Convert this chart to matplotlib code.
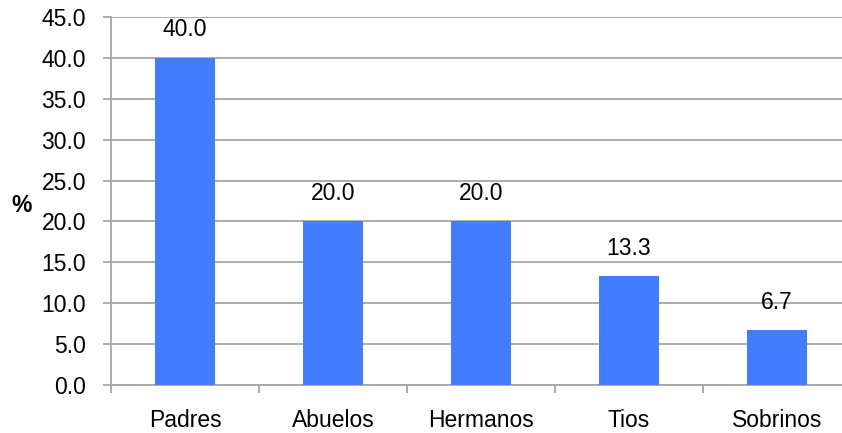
import matplotlib.pyplot as plt
import numpy as np

# datos
categorias = ["Padres", "Abuelos", "Hermanos", "Tios", "Sobrinos"]
porcentajes = [40.0, 20.0, 20.0, 13.3, 6.7]
etiquetas = ["40.0", "20.0", "20.0", "13.3", "6.7"]

plt.rcParams['font.family'] = ['Liberation Sans', 'DejaVu Sans']
tam = 16.5

fig = plt.figure(figsize=(8.42, 4.33), dpi=100)
# el eje derecho queda fuera de la imagen, como en el grafico original
ax = fig.add_axes([111 / 842, 1 - 385 / 433, 740 / 842, 368 / 433])

gris = '#a6a6a6'
x = np.arange(len(categorias))
barras = ax.bar(x, porcentajes, width=0.4, color='#437cfe', zorder=3)

for b, txt in zip(barras, etiquetas):
    ax.annotate(txt, (b.get_x() + b.get_width() / 2, b.get_height()),
                xytext=(0, 12), textcoords='offset points',
                ha='center', va='bottom', fontsize=tam)

ax.set_xlim(-0.5, len(categorias) - 0.5)
ax.set_ylim(0, 45)
ax.set_yticks(np.arange(0, 46, 5))
ax.set_yticklabels([f"{v:.1f}" for v in np.arange(0, 46, 5)])
ax.yaxis.grid(True, color=gris, linewidth=1.3, zorder=0)

ax.set_xticks(x)
ax.set_xticklabels(categorias)
ax.set_xticks(np.arange(-0.5, len(categorias), 1), minor=True)
ax.tick_params(axis='x', which='major', length=0, pad=17, labelsize=tam)
ax.tick_params(axis='x', which='minor', length=6, width=1.3, color=gris)
ax.tick_params(axis='y', length=6, width=1.3, color=gris, pad=12, labelsize=tam)

for lado in ['top', 'right']:
    ax.spines[lado].set_visible(False)
for lado in ['left', 'bottom']:
    ax.spines[lado].set_color(gris)
    ax.spines[lado].set_linewidth(1.3)

fig.text(22 / 842, 1 - 205 / 433, "%", fontsize=tam, fontweight='bold',
         ha='center', va='center')

fig.savefig("out.png", dpi=100)
